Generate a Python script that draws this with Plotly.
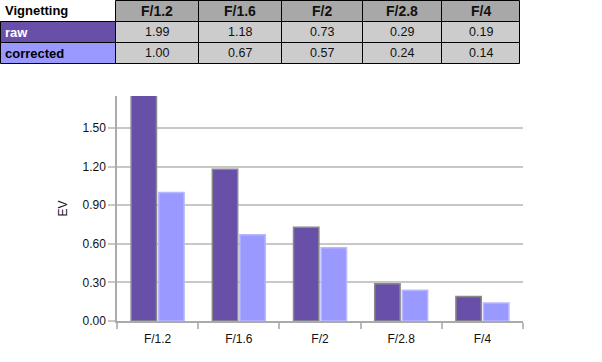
import plotly.graph_objects as go

categories = ["F/1.2", "F/1.6", "F/2", "F/2.8", "F/4"]
raw = [1.99, 1.18, 0.73, 0.29, 0.19]
corrected = [1.00, 0.67, 0.57, 0.24, 0.14]
series_names = ["raw", "corrected"]
table_title = "Vignetting"
y_ticks = [0.0, 0.3, 0.6, 0.9, 1.2, 1.5]

RAW_C = "#6850A8"
COR_C = "#9999FF"
HDR_C = "#A8A8A8"
CELL_C = "#CCCCCC"
FONT = "Liberation Sans, Arial"

W, H = 602, 362

fig = go.Figure()

fig.add_trace(go.Bar(
    x=categories, y=raw, name=series_names[0],
    marker=dict(color=RAW_C, line=dict(color="#8a8a8a", width=1.5)),
))
fig.add_trace(go.Bar(
    x=categories, y=corrected, name=series_names[1],
    marker=dict(color=COR_C, line=dict(color="#b8b8ff", width=1.5)),
))

# ---- table drawn with shapes and annotations (pixel layout) ----
col_edges = [0, 115, 198, 281, 362, 441, 519]
row_edges = [0.5, 21.5, 42.5, 63.5]


def px(x):
    return x / W


def py(y):
    return 1 - y / H


shapes = []
annotations = []
rows = [
    [table_title] + categories,
    [series_names[0]] + ["%.2f" % v for v in raw],
    [series_names[1]] + ["%.2f" % v for v in corrected],
]
fills = [
    ["white"] + [HDR_C] * len(categories),
    [RAW_C] + [CELL_C] * len(categories),
    [COR_C] + [CELL_C] * len(categories),
]
for r in range(3):
    for c in range(len(col_edges) - 1):
        x0, x1 = col_edges[c] + 0.5, col_edges[c + 1] + 0.5
        y0, y1 = row_edges[r], row_edges[r + 1]
        border = not (r == 0 and c == 0)
        shapes.append(dict(
            type="rect", xref="paper", yref="paper",
            x0=px(x0), x1=px(x1), y0=py(y0), y1=py(y1),
            fillcolor=fills[r][c],
            line=dict(color="black" if border else "rgba(0,0,0,0)", width=1),
            layer="below",
        ))
        txt = rows[r][c]
        if c == 0:
            color = "white" if r == 1 else "black"
            annotations.append(dict(
                xref="paper", yref="paper", x=px(x0 + 2), y=py((y0 + y1) / 2),
                xanchor="left", yanchor="middle", showarrow=False,
                text="<b>%s</b>" % txt, font=dict(family=FONT, size=13, color=color),
            ))
        else:
            bold = r == 0
            annotations.append(dict(
                xref="paper", yref="paper", x=px((x0 + x1) / 2), y=py((y0 + y1) / 2),
                xanchor="center", yanchor="middle", showarrow=False,
                text=("<b>%s</b>" % txt) if bold else txt,
                font=dict(family=FONT, size=14 if bold else 12.5, color="#111"),
            ))

fig.update_layout(
    width=W, height=H,
    margin=dict(l=0, r=0, t=0, b=0),
    paper_bgcolor="white", plot_bgcolor="white",
    showlegend=False,
    barmode="group", bargap=0.32, bargroupgap=0.08,
    font=dict(family=FONT, size=12, color="#222"),
    shapes=shapes,
    annotations=annotations,
    xaxis=dict(
        domain=[117 / W, 523 / W],
        showline=True, linecolor="#aaaaaa", linewidth=1.5,
        ticks="outside", tickson="boundaries", ticklen=6, tickcolor="#bbbbbb", tickwidth=1.5,
        showgrid=False, automargin=False, ticklabelstandoff=6,
        tickfont=dict(size=12, color="#111"),
    ),
    yaxis=dict(
        domain=[(H - 321) / H, (H - 96) / H],
        range=[0, 1.75],
        tickvals=y_ticks, tickformat=".2f",
        showline=True, linecolor="#aaaaaa", linewidth=1.5,
        ticks="outside", ticklen=7, tickcolor="#c8c8c8", tickwidth=1.5,
        showgrid=True, gridcolor="#c8c8c8", gridwidth=1.5,
        zeroline=False, automargin=False,
        tickfont=dict(size=12, color="#111"),
        title=dict(text="EV", standoff=12, font=dict(size=12, color="#111")),
    ),
)

fig.write_html("out.html", config={"displayModeBar": False},
               post_script="document.body.style.margin='0';")
